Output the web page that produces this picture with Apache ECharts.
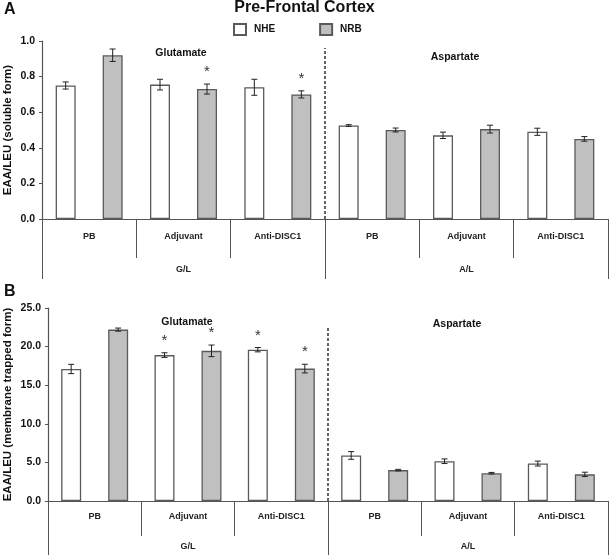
<!DOCTYPE html>
<html>
<head>
<meta charset="utf-8">
<script src="https://cdn.jsdelivr.net/npm/echarts@6/dist/echarts.min.js"></script>
<style>html,body{margin:0;padding:0;background:#fff}#c{width:609px;height:555px}</style>
</head>
<body>
<div id="c"></div>
<script>
// ---- data ----
var categories = ['PB', 'Adjuvant', 'Anti-DISC1', 'PB', 'Adjuvant', 'Anti-DISC1'];
var groups = ['G/L', 'A/L'];
var seriesNames = ['NHE', 'NRB'];
var yTicksSoluble = [0, 0.2, 0.4, 0.6, 0.8, 1.0];
var yTicksMembrane = [0, 5, 10, 15, 20, 25];

var solubleNHE = [0.75, 0.755, 0.74, 0.525, 0.47, 0.49];
var solubleNHEErr = [0.02, 0.03, 0.045, 0.005, 0.018, 0.02];
var solubleNRB = [0.92, 0.73, 0.70, 0.50, 0.505, 0.45];
var solubleNRBErr = [0.035, 0.028, 0.02, 0.011, 0.022, 0.013];
var solubleNHESig = [0, 0, 0, 0, 0, 0];
var solubleNRBSig = [0, 1, 1, 0, 0, 0];

var membraneNHE = [17.1, 18.9, 19.6, 5.9, 5.15, 4.85];
var membraneNHEErr = [0.6, 0.3, 0.28, 0.5, 0.3, 0.32];
var membraneNRB = [22.2, 19.45, 17.15, 4.0, 3.6, 3.45];
var membraneNRBErr = [0.2, 0.75, 0.56, 0.1, 0.1, 0.28];
var membraneNHESig = [0, 1, 1, 0, 0, 0];
var membraneNRBSig = [0, 1, 1, 0, 0, 0];

// ---- styling ----
var FONT = '"Liberation Sans", Arial, sans-serif';
var BAR_W = 20, BAR_GAP = 1.35;
var OFFSET = (BAR_W + BAR_W * BAR_GAP) / 2;
var AXIS_COLOR = '#555';
var fillNHE = '#ffffff', fillNRB = '#c0c0c0', borderCol = '#5a5a5a';

var chart = echarts.init(document.getElementById('c'), null, {renderer: 'canvas'});

function errData(vals, errs, sign) {
  return vals.map(function (v, i) { return [i, v, errs[i], sign]; });
}
function sigData(vals, errs, sigs, sign) {
  var out = [];
  vals.forEach(function (v, i) { if (sigs[i]) out.push([i, v + errs[i], sign]); });
  return out;
}
function renderErr(params, api) {
  var i = api.value(0), v = api.value(1), e = api.value(2), s = api.value(3);
  var c = api.coord([i, v]);
  var x = c[0] + s * OFFSET;
  var hi = api.coord([i, v + e])[1];
  var lo = api.coord([i, v - e])[1];
  var st = {stroke: '#222', lineWidth: 1};
  return {type: 'group', children: [
    {type: 'line', shape: {x1: x, y1: hi, x2: x, y2: lo}, style: st},
    {type: 'line', shape: {x1: x - 3, y1: hi, x2: x + 3, y2: hi}, style: st},
    {type: 'line', shape: {x1: x - 3, y1: lo, x2: x + 3, y2: lo}, style: st}
  ]};
}
function renderSig(params, api) {
  var i = api.value(0), v = api.value(1), s = api.value(2);
  var c = api.coord([i, v]);
  return {type: 'text', x: c[0] + s * OFFSET, y: c[1] - 12,
    style: {text: '*', fill: '#333', font: '15px ' + FONT, align: 'center', verticalAlign: 'middle'}};
}
function renderDash(params, api) {
  var i = api.value(0), top = api.value(1);
  var base = api.coord([i, 0]);
  var x = base[0] - api.size([1, 0])[0] / 2;
  var yt = api.coord([i, top])[1];
  return {type: 'line', shape: {x1: x, y1: base[1], x2: x, y2: yt},
    style: {stroke: '#111', lineWidth: 1.3, lineDash: [3, 2]}};
}

function yAxisDef(grid, ticks, name, gap) {
  return {
    type: 'value', gridIndex: grid, min: ticks[0], max: ticks[ticks.length - 1],
    interval: ticks[1] - ticks[0],
    name: name, nameLocation: 'middle', nameGap: gap, nameRotate: 90, nameMoveOverlap: false,
    nameTextStyle: {fontFamily: FONT, fontWeight: 'bold', fontSize: 11.5, color: '#111'},
    axisLine: {show: true, lineStyle: {color: AXIS_COLOR, width: 1.2}},
    axisTick: {show: true, length: 3, lineStyle: {color: AXIS_COLOR}},
    axisLabel: {fontFamily: FONT, fontWeight: 'bold', fontSize: 10.5, color: '#111', margin: 7,
      formatter: function (v) { return v.toFixed(1); }},
    splitLine: {show: false}
  };
}
function xAxisDefs(grid, tickLen1, margin1, tickLen2, margin2) {
  return [{
    type: 'category', gridIndex: grid, data: categories, position: 'bottom',
    axisLine: {show: true, lineStyle: {color: AXIS_COLOR, width: 1.2}},
    axisTick: {show: true, length: tickLen1, lineStyle: {color: AXIS_COLOR}},
    axisLabel: {fontFamily: FONT, fontWeight: 'bold', fontSize: 9, color: '#222', margin: margin1, interval: 0}
  }, {
    type: 'category', gridIndex: grid, data: groups, position: 'bottom',
    axisLine: {show: false},
    axisTick: {show: true, length: tickLen2, lineStyle: {color: AXIS_COLOR}},
    axisLabel: {fontFamily: FONT, fontWeight: 'bold', fontSize: 9, color: '#222', margin: margin2, interval: 0}
  }];
}
function barSeries(name, data, xi, yi, fill) {
  return {
    name: name, type: 'bar', xAxisIndex: xi, yAxisIndex: yi, data: data,
    barWidth: BAR_W, barGap: (BAR_GAP * 100) + '%',
    itemStyle: {color: fill, borderColor: borderCol, borderWidth: 1.3}
  };
}
function customSeries(data, xi, yi, fn) {
  return {type: 'custom', xAxisIndex: xi, yAxisIndex: yi, data: data, renderItem: fn, silent: true, z: 5};
}

var option = {
  animation: false,
  backgroundColor: '#fff',
  title: {text: 'Pre-Frontal Cortex', left: 'center', top: 0, padding: 0,
    textStyle: {fontFamily: FONT, fontWeight: 'bold', fontSize: 16, color: '#111'}},
  legend: {data: seriesNames, left: 233, top: 23, padding: 0, itemWidth: 12, itemHeight: 11, itemGap: 44, icon: 'rect',
    textStyle: {fontFamily: FONT, fontWeight: 'bold', fontSize: 10, color: '#111', padding: [0, 0, 0, 3]}},
  grid: [
    {left: 42, right: 1, top: 41, height: 178, containLabel: false, outerBoundsMode: 'none'},
    {left: 48, right: 1, top: 308, height: 193, containLabel: false, outerBoundsMode: 'none'}
  ],
  xAxis: xAxisDefs(0, 39, 13, 60, 46).concat(xAxisDefs(1, 35, 11, 60, 41)),
  yAxis: [
    yAxisDef(0, yTicksSoluble, 'EAA/LEU (soluble form)', 28),
    yAxisDef(1, yTicksMembrane, 'EAA/LEU (membrane trapped form)', 34)
  ],
  graphic: [
    {type: 'text', left: 4, top: 2, style: {text: 'A', font: 'bold 16px ' + FONT, fill: '#111'}},
    {type: 'text', left: 4, top: 284, style: {text: 'B', font: 'bold 16px ' + FONT, fill: '#111'}},
    {type: 'text', x: 181, y: 53, style: {text: 'Glutamate', font: 'bold 10.5px ' + FONT, fill: '#111', align: 'center', verticalAlign: 'middle'}},
    {type: 'text', x: 455, y: 57, style: {text: 'Aspartate', font: 'bold 10.5px ' + FONT, fill: '#111', align: 'center', verticalAlign: 'middle'}},
    {type: 'text', x: 187, y: 322, style: {text: 'Glutamate', font: 'bold 10.5px ' + FONT, fill: '#111', align: 'center', verticalAlign: 'middle'}},
    {type: 'text', x: 457, y: 324, style: {text: 'Aspartate', font: 'bold 10.5px ' + FONT, fill: '#111', align: 'center', verticalAlign: 'middle'}}
  ],
  series: [
    barSeries('NHE', solubleNHE, 0, 0, fillNHE),
    barSeries('NRB', solubleNRB, 0, 0, fillNRB),
    customSeries(errData(solubleNHE, solubleNHEErr, -1), 0, 0, renderErr),
    customSeries(errData(solubleNRB, solubleNRBErr, 1), 0, 0, renderErr),
    customSeries(sigData(solubleNHE, solubleNHEErr, solubleNHESig, -1), 0, 0, renderSig),
    customSeries(sigData(solubleNRB, solubleNRBErr, solubleNRBSig, 1), 0, 0, renderSig),
    customSeries([[3, 0.96]], 0, 0, renderDash),

    barSeries('NHE', membraneNHE, 2, 1, fillNHE),
    barSeries('NRB', membraneNRB, 2, 1, fillNRB),
    customSeries(errData(membraneNHE, membraneNHEErr, -1), 2, 1, renderErr),
    customSeries(errData(membraneNRB, membraneNRBErr, 1), 2, 1, renderErr),
    customSeries(sigData(membraneNHE, membraneNHEErr, membraneNHESig, -1), 2, 1, renderSig),
    customSeries(sigData(membraneNRB, membraneNRBErr, membraneNRBSig, 1), 2, 1, renderSig),
    customSeries([[3, 22.4]], 2, 1, renderDash)
  ]
};
chart.setOption(option);
</script>
</body>
</html>
